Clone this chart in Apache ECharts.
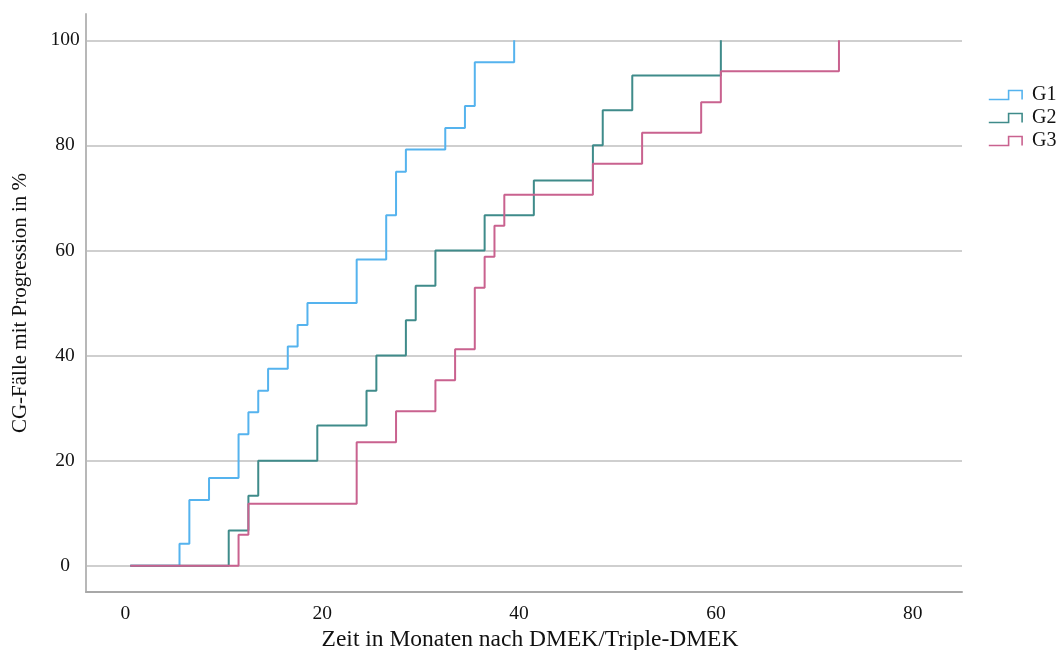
<!DOCTYPE html>
<html>
<head>
<meta charset="utf-8">
<script src="https://cdn.jsdelivr.net/npm/echarts@6/dist/echarts.min.js"></script>
<style>
  html, body { margin: 0; padding: 0; background: #fff; }
  #main { width: 1059px; height: 650px; }
</style>
</head>
<body>
<div id="main"></div>
<script>
// Zeit (Monate) und kumulierter Anteil (%) je Gruppe
var groupNames = ['G1', 'G2', 'G3'];
var g1Time = [0.5, 5.5, 6.5, 8.5, 11.5, 12.5, 13.5, 14.5, 16.5, 17.5, 18.5, 23.5, 26.5, 27.5, 28.5, 32.5, 34.5, 35.5, 39.5];
var g1Pct  = [0, 4.2, 12.5, 16.7, 25.0, 29.2, 33.3, 37.5, 41.7, 45.8, 50.0, 58.3, 66.7, 75.0, 79.2, 83.3, 87.5, 95.8, 100];
var g2Time = [0.5, 10.5, 12.5, 13.5, 19.5, 24.5, 25.5, 28.5, 29.5, 31.5, 36.5, 41.5, 47.5, 48.5, 51.5, 60.5];
var g2Pct  = [0, 6.7, 13.3, 20.0, 26.7, 33.3, 40.0, 46.7, 53.3, 60.0, 66.7, 73.3, 80.0, 86.7, 93.3, 100];
var g3Time = [0.5, 11.5, 12.5, 23.5, 27.5, 31.5, 33.5, 35.5, 36.5, 37.5, 38.5, 47.5, 52.5, 58.5, 60.5, 72.5];
var g3Pct  = [0, 5.9, 11.8, 23.5, 29.4, 35.3, 41.2, 52.9, 58.8, 64.7, 70.6, 76.5, 82.4, 88.2, 94.1, 100];

var colors = ['#55b3ee', '#3f8b8a', '#c9628f'];
var font = '"Liberation Serif", "DejaVu Serif", serif';
var stepIcon = 'path://M0,10L22,10L22,0L37,0L37,10';

var pairs = function (xs, ys) {
    var res = [];
    for (var i = 0; i < xs.length; i++) {
        res.push([xs[i], ys[i]]);
    }
    return res;
};

var allData = [pairs(g1Time, g1Pct), pairs(g2Time, g2Pct), pairs(g3Time, g3Pct)];

var series = [];
groupNames.forEach(function (name, i) {
    series.push({
        name: name,
        type: 'line',
        step: 'end',
        showSymbol: false,
        symbol: 'none',
        z: 3 + i,
        lineStyle: { color: colors[i], width: 2 },
        itemStyle: { color: colors[i] },
        data: allData[i]
    });
});

var myChart = echarts.init(document.getElementById('main'));
var option = {
    animation: false,
    grid: { left: 86, right: 97, top: 14, bottom: 58, containLabel: false, outerBoundsMode: 'none' },
    legend: {
        orient: 'vertical',
        left: 983,
        top: 80,
        itemWidth: 37,
        itemHeight: 9,
        itemGap: 3,
        icon: stepIcon,
        textStyle: { fontFamily: font, fontSize: 20, color: '#111', padding: [0, 0, 0, 3] },
        data: groupNames.map(function (n, i) {
            return {
                name: n,
                itemStyle: { color: 'transparent', borderColor: colors[i], borderWidth: 1.6 }
            };
        })
    },
    xAxis: {
        type: 'value',
        min: -4,
        max: 85,
        splitNumber: 5,
        name: 'Zeit in Monaten nach DMEK/Triple-DMEK',
        nameLocation: 'middle',
        nameGap: 36,
        nameMoveOverlap: false,
        nameTextStyle: { fontFamily: font, fontSize: 23.5, color: '#111', padding: [0, 0, 0, 12] },
        axisLine: { show: true, onZero: false, lineStyle: { color: '#a8a8a8', width: 2 } },
        axisTick: { show: false },
        splitLine: { show: false },
        axisLabel: {
            fontFamily: font, fontSize: 19.5, color: '#111', margin: 12,
            showMinLabel: false, showMaxLabel: false
        }
    },
    yAxis: {
        type: 'value',
        min: -5,
        max: 105,
        splitNumber: 5,
        name: 'CG-Fälle mit Progression in %',
        nameLocation: 'middle',
        nameGap: 55,
        nameMoveOverlap: false,
        nameTextStyle: { fontFamily: font, fontSize: 21, color: '#111' },
        axisLine: { show: true, onZero: false, lineStyle: { color: '#b8b8b8', width: 2 } },
        axisTick: { show: false },
        splitLine: {
            show: true, showMinLine: false, showMaxLine: false,
            lineStyle: { color: '#cfcfcf', width: 2 }
        },
        axisLabel: {
            fontFamily: font, fontSize: 19.5, color: '#111', margin: 21, align: 'center',
            showMinLabel: false, showMaxLabel: false
        }
    },
    series: series
};
myChart.setOption(option);
</script>
</body>
</html>
